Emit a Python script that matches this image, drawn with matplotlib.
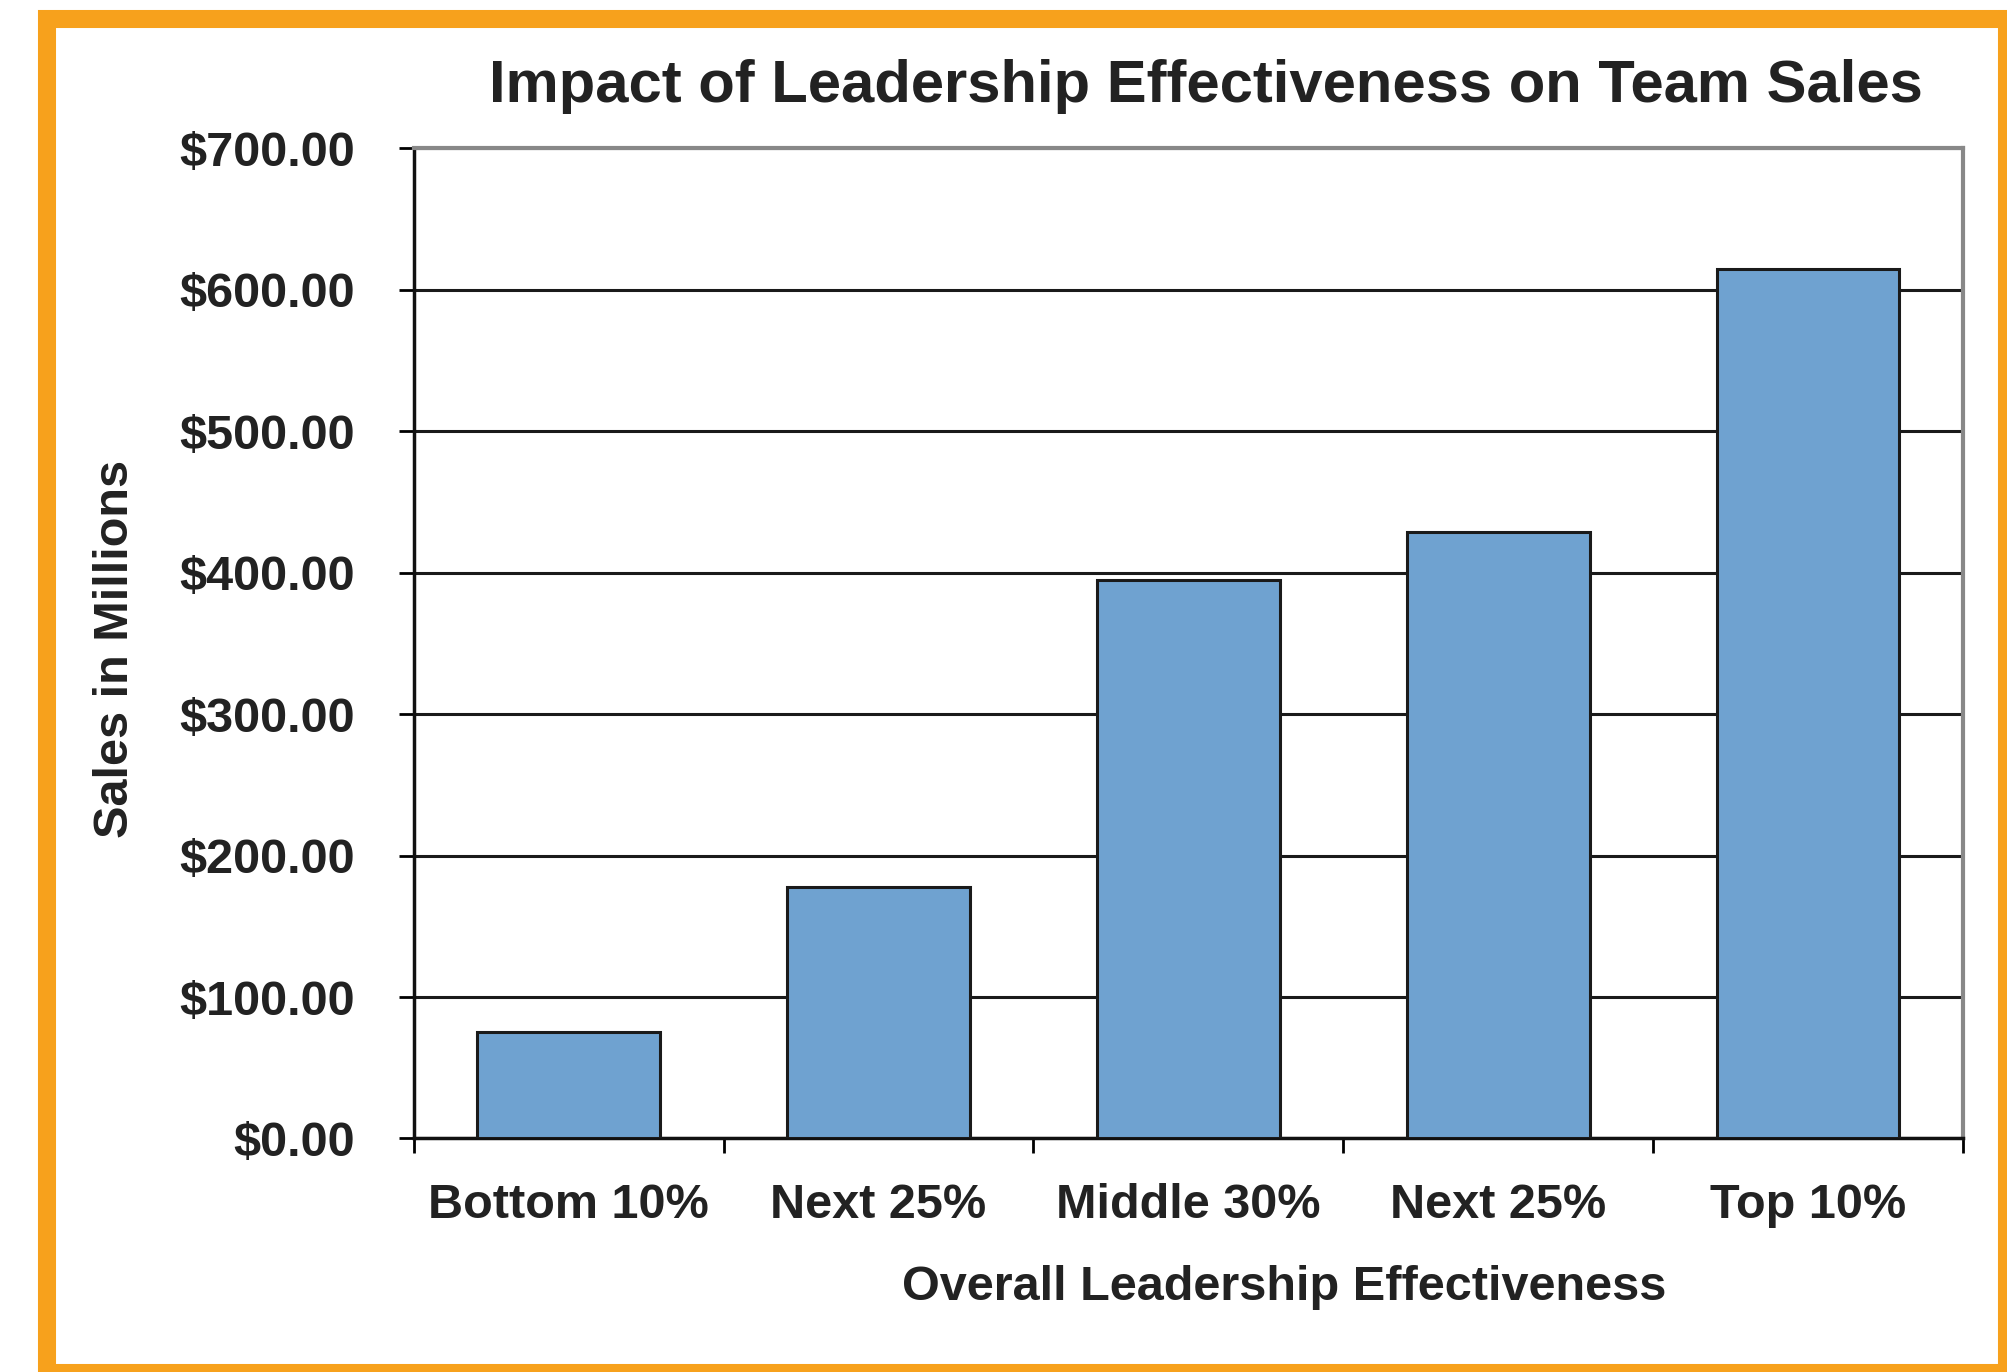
import matplotlib
matplotlib.use("Agg")
import matplotlib.pyplot as plt
from matplotlib.patches import Rectangle
from matplotlib.ticker import FuncFormatter, FixedLocator, NullFormatter
import numpy as np

categories = ["Bottom 10%", "Next 25%", "Middle 30%", "Next 25%", "Top 10%"]
sales = [75, 178, 395, 429, 615]
y_ticks = [0, 100, 200, 300, 400, 500, 600, 700]

plt.rcParams['font.family'] = ['Liberation Sans', 'DejaVu Sans']
plt.rcParams['font.weight'] = 'bold'
txt = '#222222'

fig = plt.figure(figsize=(20.08, 13.72), dpi=100)
ax = fig.add_axes([0.206, 0.1702, 0.7716, 0.7216])

x = np.arange(len(categories))
ax.bar(x, sales, width=0.59, color='#6fa2d0', edgecolor='#1a1a1a', linewidth=2.2, zorder=3)

ax.set_xlim(-0.5, len(categories) - 0.5)
ax.set_ylim(0, 700)
ax.set_yticks(y_ticks)
ax.yaxis.set_major_formatter(FuncFormatter(lambda v, p: f"${v:,.2f}"))
ax.yaxis.grid(True, color='#1a1a1a', linewidth=2.2, zorder=0)

# ticks at category boundaries, labels centred under bars
ax.xaxis.set_major_locator(FixedLocator(np.arange(-0.5, len(categories), 1.0)))
ax.xaxis.set_major_formatter(NullFormatter())
ax.xaxis.set_minor_locator(FixedLocator(x))
ax.set_xticklabels(categories, minor=True)
ax.tick_params(axis='x', which='minor', length=0, pad=32, labelsize=35, labelcolor=txt)
ax.tick_params(axis='x', which='major', length=11, width=2, direction='out')
ax.tick_params(axis='y', length=11, width=2, direction='out', pad=31, labelsize=35, labelcolor=txt)

for s in ['left', 'bottom']:
    ax.spines[s].set_color('#111111')
    ax.spines[s].set_linewidth(2.5)
for s in ['top', 'right']:
    ax.spines[s].set_color('#888888')
    ax.spines[s].set_linewidth(3)

fig.text(0.6008, 0.937, "Impact of Leadership Effectiveness on Team Sales",
         ha='center', va='center', fontsize=43, fontweight='bold', color=txt)
fig.text(0.6396, 0.0615, "Overall Leadership Effectiveness",
         ha='center', va='center', fontsize=35, fontweight='bold', color=txt)
fig.text(0.0574, 0.527, "Sales in Millions", rotation=90,
         ha='center', va='center', fontsize=35, fontweight='bold', color=txt)

# orange frame
fig.patches.append(Rectangle((47 / 2008, -1 / 1372), (2007 - 47) / 2008, (1353 + 1) / 1372,
                             transform=fig.transFigure, fill=False,
                             edgecolor='#f7a11c', linewidth=13, zorder=10))

fig.savefig("out.png", dpi=100, facecolor='white')
